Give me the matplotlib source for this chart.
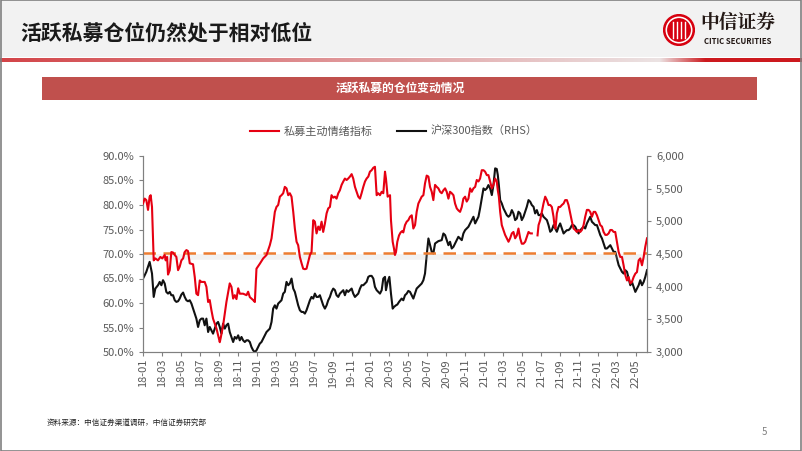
import matplotlib.pyplot as plt
import numpy as np
from matplotlib.patches import Rectangle, Circle
import matplotlib.transforms as mtransforms

plt.rcParams['font.family'] = ['Noto Sans CJK SC', 'DejaVu Sans']

# x = months since 2018-01 (weekly-ish readings)
red_m = [0.00, 0.18, 0.35, 0.53, 0.70, 0.81, 0.95, 1.13, 1.30, 1.58, 1.83, 2.04, 2.29, 2.39, 2.54, 2.64, 2.82, 2.99,
         3.17, 3.35, 3.52, 3.70, 3.87, 4.05, 4.23, 4.40, 4.58, 4.75, 4.93, 5.28, 5.46, 5.63, 5.81, 5.99, 6.16, 6.51,
         6.69, 6.87, 7.04, 7.22, 7.39, 7.57, 7.75, 7.92, 8.10, 8.20, 8.45, 8.80, 9.15, 9.33, 9.51, 9.68, 9.86, 10.04,
         10.21, 10.56, 10.92, 11.09, 11.27, 11.62, 11.80, 11.97, 12.32, 12.68, 13.03, 13.38, 13.56, 13.73, 13.91,
         14.08, 14.26, 14.44, 14.61, 14.79, 14.96, 15.14, 15.32, 15.49, 15.67, 15.85, 16.02, 16.20, 16.37, 16.55,
         16.73, 16.90, 17.08, 17.25, 17.43, 17.61, 17.78, 17.96, 18.13, 18.31, 18.49, 18.66, 18.84, 19.01, 19.19,
         19.37, 19.54, 19.72, 19.89, 20.07, 20.25, 20.42, 20.60, 20.77, 20.95, 21.13, 21.30, 21.48, 21.65, 21.83,
         22.01, 22.18, 22.36, 22.54, 22.71, 22.89, 23.06, 23.24, 23.42, 23.59, 23.77, 23.94, 24.12, 24.30, 24.47,
         24.65, 24.82, 25.00, 25.18, 25.35, 25.53, 25.63, 25.81, 26.06, 26.16, 26.34, 26.48, 26.58, 26.69, 26.83,
         27.01, 27.18, 27.36, 27.46, 27.64, 27.82, 27.99, 28.17, 28.35, 28.52, 28.70, 28.87, 29.05, 29.23, 29.40,
         29.58, 29.75, 29.93, 30.11, 30.28, 30.46, 30.63, 30.81, 30.99, 31.16, 31.34, 31.51, 31.69, 31.87, 32.04,
         32.22, 32.39, 32.57, 32.75, 32.92, 33.10, 33.27, 33.45, 33.63, 33.80, 33.98, 34.15, 34.33, 34.51, 34.68,
         34.86, 35.04, 35.21, 35.39, 35.56, 35.74, 35.92, 36.09, 36.27, 36.44, 36.62, 36.80, 36.97, 37.15, 37.32,
         37.43, 37.54, 37.68, 37.85, 38.03, 38.20, 38.38, 38.56, 38.73, 38.91, 39.08, 39.26, 39.44, 39.61, 39.79,
         39.96, 40.14, 40.32, 40.49, 40.67, 40.85, 41.02, 41.30,
         41.62, 41.73, 41.90, 42.08, 42.25, 42.43, 42.61, 42.78, 42.96, 43.13, 43.31, 43.42, 43.52, 43.66, 43.84,
         44.01, 44.19, 44.37, 44.54, 44.72, 44.89, 45.07, 45.25, 45.42, 45.60, 45.77, 45.95, 46.13, 46.30, 46.48,
         46.65, 46.83, 47.01, 47.18, 47.36, 47.54, 47.71, 47.89, 48.06, 48.24, 48.42, 48.59, 48.77, 48.94, 49.12,
         49.30, 49.47, 49.65, 49.82, 50.00, 50.18, 50.35, 50.53, 50.70, 50.88, 51.06, 51.23, 51.41, 51.58, 51.76,
         51.94, 52.11, 52.29, 52.46, 52.64, 52.82, 52.99, 53.17]
red_v = [80.3, 81.3, 81.0, 79.0, 81.7, 82.0, 79.6, 68.7, 69.1, 68.7, 69.4, 69.1, 69.8, 68.7, 69.4, 65.8, 66.7, 70.4,
         70.3, 69.8, 69.4, 66.7, 67.4, 68.7, 69.1, 70.4, 70.8, 70.6, 68.1, 67.9, 65.3, 61.9, 61.6, 64.6, 64.3, 64.3,
         63.3, 60.2, 60.6, 58.5, 56.8, 55.8, 54.8, 53.4, 52.0, 52.9, 55.4, 60.2, 64.0, 63.3, 60.9, 61.6, 60.8, 63.0,
         61.9, 61.9, 61.6, 62.3, 61.2, 60.6, 60.2, 67.0, 68.0, 69.1, 69.8, 71.8, 73.2, 75.9, 78.6,
         79.6, 80.0, 81.7, 82.0, 82.4, 83.7, 83.4, 82.0, 82.4, 81.7, 78.6, 75.2, 72.5, 71.8, 69.4,
         68.1, 67.0, 66.9, 67.0, 68.4, 69.8, 70.4, 76.9, 76.6, 74.2, 75.6, 74.9, 76.6, 74.5, 76.2,
         78.3, 79.3, 79.6, 82.0, 81.5, 81.7, 81.3, 82.4, 83.0, 84.1, 84.8, 85.4, 85.1, 85.4, 85.8,
         86.3, 85.4, 83.7, 82.7, 81.7, 81.3, 82.4, 83.7, 84.8, 85.4, 85.8, 86.8, 87.1, 87.6, 87.8,
         82.0, 82.4, 82.0, 82.7, 82.4, 86.8, 85.4, 81.7, 82.0, 76.9, 72.5, 71.1, 69.8, 70.4, 72.5,
         73.8, 74.4, 74.7, 74.4, 75.9, 76.6, 76.9, 77.6, 77.9, 75.2, 75.9, 78.6, 80.3, 81.0, 81.7,
         82.0, 84.4, 86.0, 85.8, 83.7, 82.7, 81.0, 84.1, 83.7, 83.4, 82.7, 82.4, 83.0, 83.4, 82.7,
         81.3, 82.7, 82.4, 82.0, 80.3, 79.3, 78.9, 78.6, 79.6, 81.3, 81.7, 80.7, 81.3, 83.4, 82.7,
         83.4, 83.7, 85.1, 84.8, 85.4, 87.1, 87.1, 86.8, 86.1, 86.1, 84.8, 83.4, 84.1, 85.4, 84.8,
         83.0, 81.7, 78.6, 75.9, 74.9, 73.9, 73.2, 72.5, 73.2, 74.2, 74.5, 73.2, 73.8, 75.2, 73.2,
         72.1, 72.1, 72.5, 73.5, 74.5, 74.2, 74.2, np.nan,
         73.8, 75.9, 76.9, 78.6, 80.3, 81.7, 81.0, 80.0, 80.0, 79.6, 77.6, 75.6, 75.2, 78.3, 79.6,
         79.6, 80.0, 80.3, 81.0, 81.0, 80.0, 78.3, 76.6, 75.2, 74.9, 74.5, 74.9, 74.5, 74.9, 75.9,
         77.6, 79.0, 79.0, 78.6, 77.6, 78.6, 78.6, 77.9, 76.9, 75.9, 75.6, 74.5, 73.9, 73.9, 74.2,
         74.9, 74.9, 74.5, 74.5, 72.5, 70.4, 69.4, 69.4, 67.7, 65.7, 64.6, 65.3, 64.0, 64.3, 65.3,
         66.0, 66.3, 68.7, 69.1, 67.7, 69.4, 71.5, 73.2]

hs_m = [0.00, 0.18, 0.35, 0.53, 0.70, 0.81, 0.95, 1.13, 1.30, 1.58, 1.76, 1.94, 2.11, 2.29, 2.46, 2.64, 2.82, 2.99,
        3.17, 3.35, 3.52, 3.70, 3.87, 4.05, 4.23, 4.40, 4.58, 4.75, 4.93, 5.11, 5.28, 5.46, 5.63, 5.81, 5.99, 6.16,
        6.34, 6.51, 6.69, 6.87, 7.04, 7.22, 7.39, 7.57, 7.75, 7.92, 8.10, 8.27, 8.45, 8.63, 8.80, 8.98, 9.15, 9.33,
        9.51, 9.68, 9.86, 10.04, 10.21, 10.39, 10.56, 10.74, 10.92, 11.09, 11.27, 11.44, 11.62, 11.80, 11.97, 12.15,
        12.32, 12.50, 12.68, 12.85, 13.03, 13.20, 13.38, 13.56, 13.73, 13.91, 14.08, 14.26, 14.44, 14.61, 14.79,
        14.96, 15.14, 15.32, 15.49, 15.67, 15.85, 16.02, 16.20, 16.37, 16.55, 16.73, 16.90, 17.08, 17.25, 17.43,
        17.61, 17.78, 17.96, 18.13, 18.31, 18.49, 18.66, 18.84, 19.01, 19.19, 19.37, 19.54, 19.72, 19.89, 20.07,
        20.25, 20.42, 20.60, 20.77, 20.95, 21.13, 21.30, 21.48, 21.65, 21.83, 22.01, 22.18, 22.36, 22.54, 22.71,
        22.89, 23.06, 23.24, 23.42, 23.59, 23.77, 23.94, 24.12, 24.30, 24.47, 24.65, 24.82, 25.00, 25.18, 25.35,
        25.53, 25.63, 25.81, 25.99, 26.16, 26.34, 26.48, 26.69, 26.83, 27.01, 27.29, 27.46, 27.64, 27.82, 27.99,
        28.17, 28.35, 28.52, 28.70, 28.87, 29.05, 29.23, 29.40, 29.58, 29.75, 29.93, 30.11, 30.28, 30.46, 30.63,
        30.81, 31.16, 31.51, 31.69, 31.87, 32.04, 32.22, 32.39, 32.57, 32.75, 33.10, 33.27, 33.45, 33.63, 33.80,
        33.98, 34.15, 34.33, 34.51, 34.68, 34.86, 35.04, 35.21, 35.39, 35.56, 35.74, 35.92, 36.09, 36.27, 36.44,
        36.62, 36.80, 36.97, 37.15, 37.32, 37.43, 37.54, 37.68, 37.85, 38.03, 38.20, 38.38, 38.56, 38.73, 38.91,
        39.08, 39.26, 39.44, 39.61, 39.79, 39.96, 40.14, 40.32, 40.49, 40.67, 40.85, 41.02, 41.20, 41.37, 41.55,
        41.73, 41.90, 42.08, 42.25, 42.61, 42.78, 42.96, 43.13, 43.31, 43.49, 43.66, 43.84, 44.01, 44.19, 44.37,
        44.54, 44.72, 44.89, 45.07, 45.25, 45.42, 45.60, 45.77, 45.95, 46.13, 46.30, 46.48, 46.65, 46.83, 47.01,
        47.18, 47.36, 47.54, 47.71, 47.89, 48.06, 48.24, 48.42, 48.59, 48.77, 48.94, 49.12, 49.30, 49.47, 49.65,
        49.82, 50.00, 50.18, 50.35, 50.53, 50.70, 50.88, 51.06, 51.23, 51.41, 51.58, 51.76, 51.94, 52.11, 52.29,
        52.46, 52.64, 52.82, 52.99, 53.17]
hs_v = [4124, 4175, 4227, 4303, 4380, 4303, 4201, 3843, 3971, 4022, 4073, 4022, 4099, 4048, 3920, 3894, 3920, 3869,
        3869, 3792, 3767, 3777, 3818, 3879, 3910, 3843, 3792, 3777, 3792, 3741, 3664, 3588, 3511, 3383, 3486, 3511,
        3511, 3409, 3511, 3306, 3383, 3332, 3281, 3358, 3434, 3460, 3383, 3281, 3434, 3358, 3409, 3434, 3306, 3230,
        3153, 3230, 3204, 3255, 3179, 3230, 3179, 3153, 3179, 3179, 3153, 3077, 3025, 3000, 3025, 3077,
        3128, 3153, 3204, 3255, 3306, 3332, 3358, 3460, 3664, 3715, 3664, 3741, 3767, 3792, 3894,
        3920, 4073, 4022, 4048, 4124, 3971, 3920, 3818, 3715, 3639, 3613, 3613, 3588, 3639, 3715,
        3792, 3843, 3818, 3894, 3843, 3843, 3869, 3792, 3715, 3664, 3715, 3792, 3843, 3920, 3971,
        3946, 3869, 3843, 3894, 3920, 3946, 3869, 3946, 3920, 3946, 3971, 3894, 3843, 3869, 3894,
        3971, 4022, 4022, 4048, 4073, 4150, 4165, 4165, 4124, 3997, 3946, 3920, 3894, 3946, 4124,
        4150, 3946, 4073, 4150, 3894, 3664, 3690, 3715, 3726, 3767, 3818, 3792, 3869, 3894, 3935,
        3920, 3869, 3818, 3894, 3971, 3997, 4022, 4048, 4099, 4201, 4482, 4738, 4635, 4533, 4508,
        4661, 4697, 4712, 4814, 4789, 4712, 4635, 4687, 4584, 4610, 4712, 4763, 4738, 4712, 4814,
        4865, 4891, 4917, 4968, 5019, 5070, 4968, 5019, 5070, 5198, 5351, 5504, 5479, 5504, 5555,
        5504, 5402, 5555, 5811, 5801, 5709, 5555, 5325, 5274, 5198, 5147, 5095, 5070, 5095, 5172,
        5121, 5019, 5044, 5147, 5121, 5019, 5070, 5147, 5223, 5325, 5300, 5249, 5223, 5121, 5172,
        5095, 5095, 5121, 5070, 5019, 4942, 4840, 4865, 4942, 4891, 4840, 4917, 4968, 4891, 4814,
        4840, 4865, 4865, 4891, 4942, 4942, 4917, 4865, 4814, 4865, 4891, 4917, 4891, 4968, 5019,
        5070, 4993, 4968, 4942, 4942, 4865, 4789, 4738, 4661, 4584, 4584, 4610, 4635, 4584, 4533,
        4533, 4431, 4329, 4278, 4227, 4201, 4252, 4227, 4124, 4022, 4073, 3997, 3920, 3971, 4022,
        4099, 4022, 4073, 4150, 4252]

avg_level = 70.2
tick_m = list(range(0, 53, 2))
tick_lab = ['%d-%02d' % (18 + m // 12, m % 12 + 1) for m in tick_m]

fig = plt.figure(figsize=(8.02, 4.51), dpi=100)
W, H = 802.0, 451.0

# header band
hdr = fig.add_axes([0, 1 - 57 / H, 1, 57 / H])
hdr.add_patch(Rectangle((0, 0), 1, 1, color='#F2F2F2'))
hdr.axis('off')
fig.text(20 / W, 1 - 33 / H, '活跃私募仓位仍然处于相对低位', fontsize=15, fontweight='bold',
         color='#1a1a1a', va='center', ha='left')

# gradient rule under header
gx = np.linspace(0, 1, 802)
alpha = np.where(gx < 0.82, 0.75 * (1 - gx / 0.82) + 0.05, np.clip((gx - 0.82) / 0.06, 0.05, 1))
base = np.array([0.80, 0.10, 0.12])
light = np.array([0.93, 0.93, 0.93])
grad = light[None, :] * (1 - alpha[:, None]) + base[None, :] * alpha[:, None]
gax = fig.add_axes([0, 1 - 62 / H, 1, 4 / H])
gax.imshow(grad[None, :, :], aspect='auto', extent=[0, 1, 0, 1])
gax.axis('off')

# logo
lax = fig.add_axes([663 / W, 1 - 46 / H, 32 / W, 32 / H])
lax.add_patch(Circle((0.5, 0.5), 0.48, color='#D7000F'))
lax.add_patch(Circle((0.5, 0.5), 0.40, color='white'))
lax.add_patch(Circle((0.5, 0.5), 0.35, color='#D7000F'))
for xx in [0.32, 0.44, 0.56, 0.68]:
    lax.plot([xx, xx], [0.25, 0.75], color='white', lw=1.0)
lax.set_xlim(0, 1)
lax.set_ylim(0, 1)
lax.set_aspect('equal')
lax.axis('off')
fig.text(738 / W, 1 - 23 / H, '中信证券', fontsize=13.5, fontweight='bold', color='#231815',
         ha='center', va='center', family=['Noto Serif CJK SC', 'Noto Sans CJK SC'])
fig.text(738 / W, 1 - 41 / H, 'CITIC SECURITIES', fontsize=5.6, fontweight='bold', color='#231815',
         ha='center', va='center')

# red banner
fig.patches.append(Rectangle((42 / W, 1 - 100 / H), 715 / W, 23 / H, transform=fig.transFigure,
                             facecolor='#C0504D', edgecolor='none'))
fig.text(400 / W, 1 - 88.5 / H, '活跃私募的仓位变动情况', fontsize=8.5, color='white', fontweight='bold',
         ha='center', va='center')

# main chart
ax = fig.add_axes([143 / W, 1 - 352 / H, 504 / W, 196 / H])
ax2 = ax.twinx()
gray = '#595959'

tr = mtransforms.offset_copy(ax.transData, fig=fig, x=0, y=-4, units='dots')
ax.plot([0, 53.17], [avg_level, avg_level], color='#BFBFBF', lw=4, alpha=0.2, transform=tr,
        solid_capstyle='butt', zorder=1)
ax.plot([0, 53.17], [avg_level, avg_level], color='#ED7D31', lw=1.8, dashes=(5, 3), zorder=2)
l1, = ax.plot(red_m, red_v, color='#E60012', lw=1.5, zorder=3)
l2, = ax2.plot(hs_m, hs_v, color='#111111', lw=1.5)
ax.set_zorder(ax2.get_zorder() + 1)
ax.patch.set_visible(False)

ax.set_xlim(0, 53.17)
ax.set_ylim(50, 90)
ax2.set_ylim(3000, 6000)
ax.set_yticks(np.arange(50, 90.1, 5))
ax.set_yticklabels(['%.1f%%' % v for v in np.arange(50, 90.1, 5)])
ax2.set_yticks(np.arange(3000, 6001, 500))
ax2.set_yticklabels(['{:,}'.format(v) for v in range(3000, 6001, 500)])
ax.set_xticks(tick_m)
ax.set_xticklabels(tick_lab, rotation=90)

for a in (ax, ax2):
    a.spines['top'].set_visible(False)
    for s in ('left', 'right', 'bottom'):
        a.spines[s].set_color('#808080')
        a.spines[s].set_linewidth(0.8)
    a.tick_params(colors='#808080', labelcolor=gray, labelsize=8, length=3, width=0.8)
ax.tick_params(axis='x', pad=2)

fig.legend([l1, l2], ['私募主动情绪指标', '沪深300指数（RHS）'], loc='center',
           bbox_to_anchor=(394 / W, 1 - 131 / H), ncol=2, frameon=False, fontsize=8,
           handlelength=2.6, columnspacing=2.2, handletextpad=0.4, labelcolor=gray)

fig.text(47 / W, 1 - 423 / H, '资料来源：中信证券渠道调研，中信证券研究部', fontsize=5.5, color='#222222',
         va='center')
fig.text(762 / W, 1 - 432 / H, '5', fontsize=7, color='#7F7F7F', va='center')

# outer frame
fig.patches.append(Rectangle((0.001, 0.001), 0.998, 0.998, transform=fig.transFigure, fill=False,
                             edgecolor='#808080', lw=1.2))

plt.savefig('out.png', dpi=100)
